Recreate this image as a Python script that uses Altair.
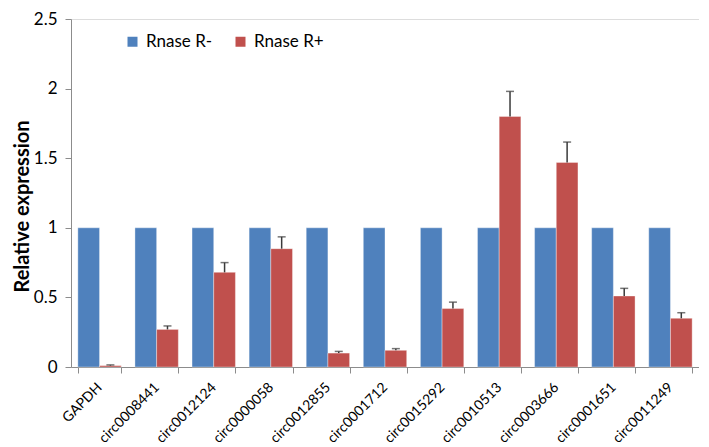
import altair as alt
import pandas as pd

categories = ["GAPDH", "circ0008441", "circ0012124", "circ0000058", "circ0012855",
              "circ0001712", "circ0015292", "circ0010513", "circ0003666",
              "circ0001651", "circ0011249"]
series_names = ["Rnase R-", "Rnase R+"]
rnase_minus = [1.0, 1.0, 1.0, 1.0, 1.0, 1.0, 1.0, 1.0, 1.0, 1.0, 1.0]
rnase_plus = [0.01, 0.27, 0.68, 0.85, 0.10, 0.12, 0.42, 1.80, 1.47, 0.51, 0.35]
plus_err = [0.005, 0.025, 0.07, 0.085, 0.012, 0.012, 0.046, 0.18, 0.146, 0.055, 0.04]
colors = ["#4F81BD", "#C0504D"]
y_ticks = [0, 0.5, 1, 1.5, 2, 2.5]

rows = []
for c, m, p, e in zip(categories, rnase_minus, rnase_plus, plus_err):
    rows.append({"cat": c, "series": series_names[0], "value": m, "upper": m})
    rows.append({"cat": c, "series": series_names[1], "value": p, "upper": p + e})
df = pd.DataFrame(rows)
err_df = df[df["series"] == series_names[1]]

FONT = "Lato"

x_enc = alt.X("cat:N", sort=categories, title=None,
              scale=alt.Scale(paddingInner=0.24, paddingOuter=0.12),
              axis=alt.Axis(labelAngle=-45, labelAlign="right", labelBaseline="middle",
                            labelFontSize=14, labelColor="#000000", labelFont=FONT,
                            tickBand="extent", domainColor="#8c8c8c", tickColor="#8c8c8c",
                            tickSize=6, labelPadding=12, labelOverlap=False))
xo_enc = alt.XOffset("series:N", sort=series_names,
                     scale=alt.Scale(domain=series_names))
y_scale = alt.Scale(domain=[0, 2.5], nice=False)

bars = alt.Chart(df).mark_bar(stroke="#ffffff", strokeWidth=0.6, strokeOpacity=0.6).encode(
    x=x_enc,
    xOffset=xo_enc,
    y=alt.Y("value:Q", scale=y_scale, title="Relative expression",
            axis=alt.Axis(values=y_ticks, grid=False, labelExpr="format(datum.value, '~g')",
                          labelFontSize=17, labelColor="#000000", labelFont=FONT,
                          titleFont=FONT, titleFontSize=20, titleFontWeight="bold",
                          titleColor="#000000", titlePadding=1, titleY=187,
                          domainColor="#8c8c8c", tickColor="#8c8c8c", tickSize=6,
                          labelPadding=8)),
    color=alt.Color("series:N", sort=series_names,
                    scale=alt.Scale(domain=series_names, range=colors),
                    legend=alt.Legend(title=None, orient="none", direction="horizontal",
                                      legendX=53, legendY=14, symbolType="square",
                                      symbolSize=100, symbolStrokeWidth=0,
                                      labelFontSize=17, labelFont=FONT,
                                      labelColor="#000000", columnPadding=19,
                                      labelOffset=5)),
)

err_rule = alt.Chart(err_df).mark_rule(color="#3a3a3a", strokeWidth=1.5).encode(
    x=alt.X("cat:N", sort=categories),
    xOffset=xo_enc,
    y=alt.Y("value:Q", scale=y_scale),
    y2="upper:Q",
)
err_cap = alt.Chart(err_df).mark_tick(color="#3a3a3a", thickness=1.5, size=8,
                                      orient="horizontal").encode(
    x=alt.X("cat:N", sort=categories),
    xOffset=xo_enc,
    y=alt.Y("upper:Q", scale=y_scale),
)

chart = alt.layer(bars, err_rule, err_cap).properties(
    width=628, height=348,
    autosize=alt.AutoSizeParams(type="none"),
    padding={"left": 63, "top": 11, "right": 0, "bottom": 80},
).configure_view(stroke=None).configure(background="#ffffff")

chart.save("out.html", embed_options={"renderer": "svg", "actions": False})
